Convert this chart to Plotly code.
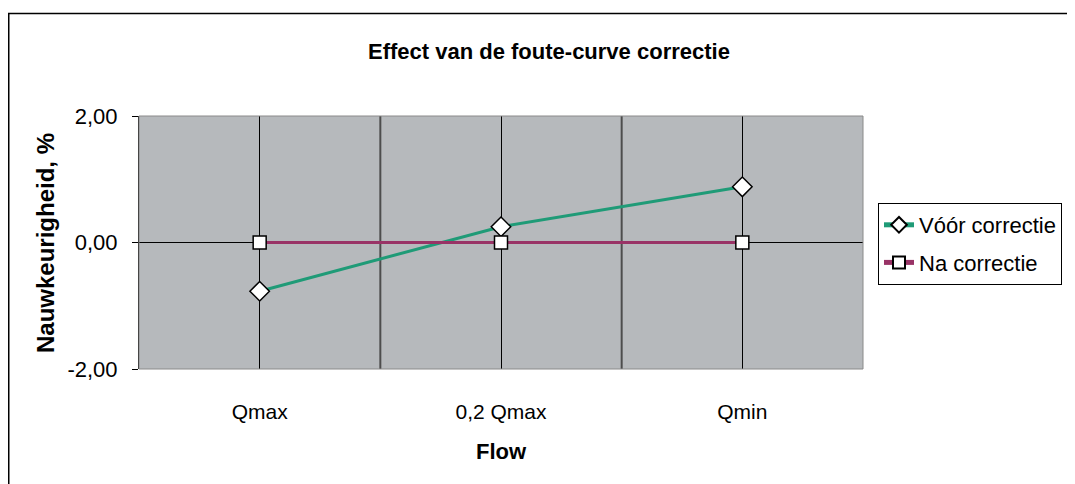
import plotly.graph_objects as go

categories = ["Qmax", "0,2 Qmax", "Qmin"]
voor_correctie = [-0.77, 0.25, 0.88]
na_correctie = [0.0, 0.0, 0.0]
y_ticks = [-2, 0, 2]
y_ticktext = ["-2,00", "0,00", "2,00"]

# the page body has an 8px margin; work in figure coordinates (screen - 8)
OFF = 8
W, H = 1075 - OFF, 484 - OFF
L, R, T, B = 139 - OFF, 863 - OFF, 116 - OFF, 369 - OFF
pw, ph = R - L, B - T

x_idx = list(range(len(categories)))
FONT = "Liberation Sans, Arial, sans-serif"


def px_x(p):
    return (p - OFF - L) / pw


def px_y(p):
    return (B - (p - OFF)) / ph


fig = go.Figure()
fig.add_trace(go.Scatter(
    x=x_idx, y=voor_correctie, name="Vóór correctie", mode="lines+markers",
    legendgroup="a",
    line=dict(color="#1f9b77", width=3),
    marker=dict(symbol="diamond", size=15, color="white", line=dict(color="black", width=1.5)),
))
fig.add_trace(go.Scatter(
    x=x_idx, y=na_correctie, name="Na correctie", mode="lines+markers",
    legendgroup="b",
    line=dict(color="#993366", width=3),
    marker=dict(symbol="square", size=13, color="white", line=dict(color="black", width=1.5)),
))

shapes = []
for b in [0.5, 1.5]:
    shapes.append(dict(type="line", xref="x", yref="y", x0=b, x1=b, y0=-2, y1=2,
                       line=dict(color="#4d4d4d", width=2), layer="below"))
shapes.append(dict(type="rect", xref="paper", yref="paper", x0=0, x1=1, y0=0, y1=1,
                   line=dict(color="#8a8a8a", width=1), layer="above"))
shapes.append(dict(type="rect", xref="paper", yref="paper",
                   x0=px_x(8.75), x1=px_x(1090), y0=px_y(500), y1=px_y(13.5),
                   line=dict(color="black", width=1.5)))

annotations = [
    dict(text="<b>Effect van de foute-curve correctie</b>", xref="paper", yref="paper",
         x=px_x(549), y=px_y(52), showarrow=False, font=dict(size=22, color="black", family=FONT),
         xanchor="center", yanchor="middle"),
    dict(text="<b>Flow</b>", xref="paper", yref="paper",
         x=px_x(501), y=px_y(452), showarrow=False, font=dict(size=22, color="black", family=FONT),
         xanchor="center", yanchor="middle"),
    dict(text="<b>Nauwkeurigheid, %</b>", xref="paper", yref="paper",
         x=px_x(45), y=px_y(243), showarrow=False, textangle=-90,
         font=dict(size=24, color="black", family=FONT),
         xanchor="center", yanchor="middle"),
]

fig.update_layout(
    width=W, height=H,
    margin=dict(l=L, r=W - R, t=T, b=H - B, pad=0, autoexpand=False),
    paper_bgcolor="white", plot_bgcolor="#b6b9bc",
    font=dict(family=FONT, size=22, color="black"),
    showlegend=True,
    legend=dict(xref="container", yref="container", x=(878 - OFF) / W, y=1 - (203 - OFF) / H,
                xanchor="left", yanchor="top", bordercolor="black", borderwidth=1,
                bgcolor="white", font=dict(size=22, family=FONT), tracegroupgap=6,
                traceorder="grouped", itemsizing="constant"),
    shapes=shapes, annotations=annotations,
    xaxis=dict(range=[-0.5, 2.5], tickvals=x_idx, ticktext=categories,
               showgrid=True, gridcolor="black", gridwidth=1,
               zeroline=False, showline=False, ticks="outside", ticklen=24,
               tickcolor="rgba(0,0,0,0)", tickfont=dict(size=21), fixedrange=True),
    yaxis=dict(range=[-2, 2], tickvals=y_ticks, ticktext=y_ticktext,
               showgrid=False, zeroline=True, zerolinecolor="black", zerolinewidth=1,
               showline=True, linecolor="black", linewidth=1,
               ticks="outside", ticklen=6, tickcolor="black", tickfont=dict(size=22),
               ticklabelstandoff=10, fixedrange=True),
)

fig.write_html("out.html")
